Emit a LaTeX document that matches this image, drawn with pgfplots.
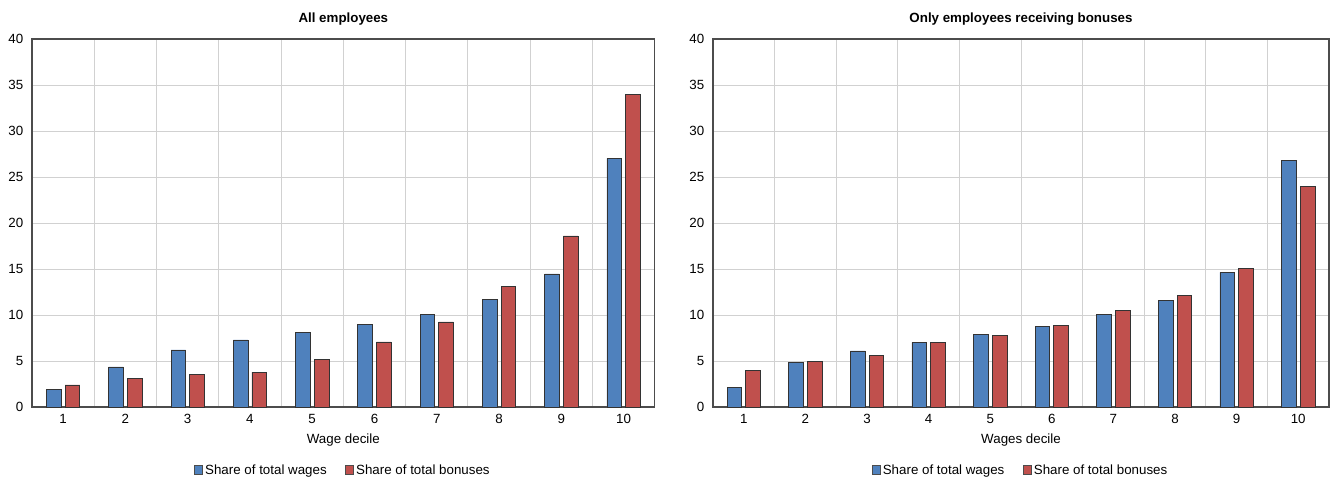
\documentclass[border=0pt]{standalone}
\usepackage{fontspec}
\setmainfont{Liberation Sans}
\usepackage{pgfplots}
\pgfplotsset{compat=1.18}
\definecolor{oblue}{HTML}{4F81BD}
\definecolor{ored}{HTML}{C0504D}
\pgfplotsset{
  mystyle/.style={
    scale only axis, height=276pt,
    ybar=3pt, bar width=11pt,
    xmin=0.5, xmax=10.5, ymin=0, ymax=40,
    xtick={1,...,10}, minor xtick={1.5,2.5,...,9.5},
    ytick={0,5,...,40},
    xminorgrids=true, ymajorgrids=true,
    major grid style={black!18, line width=0.7pt},
    minor grid style={black!18, line width=0.7pt},
    major tick length=0pt, minor tick length=0pt,
    axis line style={black!70, line width=0.8pt},
    tick label style={font=\fontsize{10}{12}\selectfont},
    yticklabel style={xshift=-3pt},
    xticklabel style={yshift=-2pt},
    /pgf/number format/assume math mode=true,
    label style={font=\fontsize{10}{12}\selectfont},
    xlabel style={at={(axis description cs:0.5,-0.0897)}, anchor=center},
    title style={at={(axis description cs:0.5,1)}, yshift=9pt, anchor=center, font=\fontsize{10}{12}\selectfont\bfseries},
    legend style={draw=none, at={(0.5,-0.174)}, anchor=center, legend columns=2,
      font=\fontsize{10}{12}\selectfont, /tikz/every even column/.append style={column sep=12pt},
      inner sep=0pt},
    legend image code/.code={\draw[##1, draw=black!70, line width=0.4pt] (0cm,-0.09cm) rectangle (0.2cm,0.14cm);},
    every axis plot/.append style={draw=black!80, line width=0.5pt},
  }
}
\begin{document}
\begin{tikzpicture}
\path[use as bounding box] (0,0) rectangle (997.5pt,361.5pt);
\begin{axis}[mystyle, width=467pt, at={(24pt,56.25pt)}, anchor=south west,
  title={All employees}, xlabel={Wage decile}]
\addplot[fill=oblue] coordinates {(1,1.9) (2,4.35) (3,6.2) (4,7.3) (5,8.15) (6,9.0) (7,10.07) (8,11.67) (9,14.46) (10,27.03)};
\addplot[fill=ored] coordinates {(1,2.4) (2,3.08) (3,3.5) (4,3.8) (5,5.18) (6,7.07) (7,9.24) (8,13.1) (9,18.6) (10,34.0)};
\legend{Share of total wages, Share of total bonuses}
\end{axis}
\begin{axis}[mystyle, width=462pt, at={(534.75pt,56.25pt)}, anchor=south west,
  title={Only employees receiving bonuses}, xlabel={Wages decile}]
\addplot[fill=oblue] coordinates {(1,2.14) (2,4.86) (3,6.09) (4,7.03) (5,7.9) (6,8.8) (7,10.04) (8,11.6) (9,14.64) (10,26.8)};
\addplot[fill=ored] coordinates {(1,4.02) (2,5.0) (3,5.58) (4,7.03) (5,7.8) (6,8.88) (7,10.47) (8,12.1) (9,15.1) (10,23.99)};
\legend{Share of total wages, Share of total bonuses}
\end{axis}
\end{tikzpicture}
\end{document}
